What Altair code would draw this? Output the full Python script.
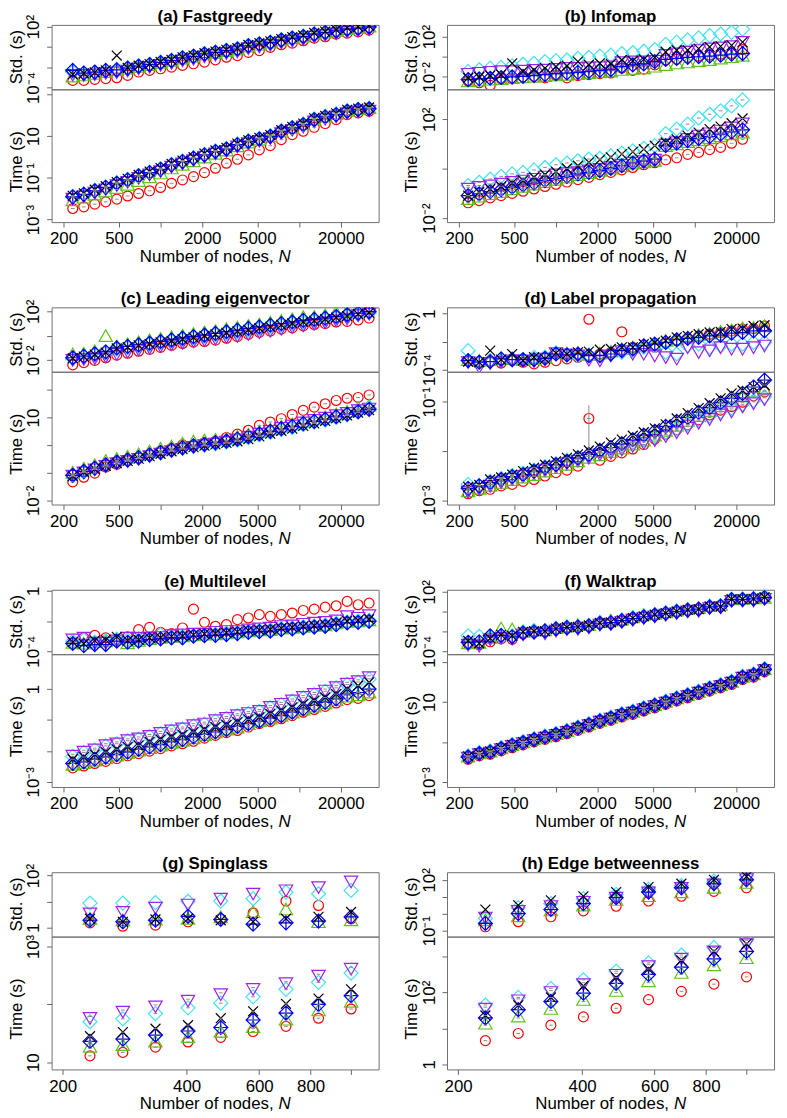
import altair as alt
import pandas as pd

FONT = "Liberation Sans"
W = 330
H_TOP = 65
H_BOT = 134
SIZE = 100

# Network sizes (x values)
N_BIG = [233, 280, 336, 403, 484, 580, 696, 835, 1002, 1202, 1443, 1731, 2077, 2493, 2992,
         3590, 4308, 5170, 6204, 7444, 8933, 10720, 12864, 15437, 18524, 22229, 26675, 32010]
N_SMALL = [233, 280, 336, 403, 484, 580, 697, 836, 1003]

XDOM_BIG = [164, 37500]
XDOM_SMALL = [188, 1170]
XTICKS_BIG = [200, 500, 1000, 2000, 5000, 10000, 20000]
XTICKS_SMALL = [200, 400, 600, 800, 1000]

ORDER = ["red", "green", "cyan", "purple", "blue", "black"]
COLOR = {"red": "#FF0000", "green": "#5CC415", "cyan": "#3FE2F2",
         "purple": "#A020F0", "blue": "#0000FF", "black": "#000000"}
SHAPE = {
    "red": "circle",
    "green": "M0,-1.555L1.347,0.778L-1.347,0.778Z",
    "purple": "M0,1.555L1.347,-0.778L-1.347,-0.778Z",
    "cyan": "M0,-1.414L1.414,0L0,1.414L-1.414,0Z",
    "blue": "M0,-1.414L1.414,0L0,1.414L-1.414,0ZM-1.414,0L1.414,0M0,-1.414L0,1.414",
    "black": "M-1,-1L1,1M-1,1L1,-1",
}

# ---------------- (a) Fastgreedy (log10 seconds) ----------------
FG_STD = {
    "red": [-3.29, -3.29, -3.19, -3.12, -3.03, -2.80, -2.47, -2.31, -2.15, -1.99, -1.82, -1.66, -1.50, -1.27,
            -1.01, -0.85, -0.53, -0.36, -0.04, 0.22, 0.38, 0.61, 0.87, 1.00, 1.26, 1.36, 1.49, 1.65],
    "green": [-3.05, -2.95, -2.80, -2.62, -2.45, -2.28, -2.10, -1.92, -1.70, -1.52, -1.28, -1.10, -0.88, -0.72,
              -0.55, -0.40, -0.10, 0.08, 0.28, 0.50, 0.70, 0.88, 1.10, 1.28, 1.44, 1.62, 1.72, 1.85],
    "cyan": [-2.45, -2.55, -2.50, -2.35, -2.20, -2.05, -1.85, -1.70, -1.50, -1.30, -1.05, -0.88, -0.65, -0.50,
             -0.32, -0.15, 0.15, 0.32, 0.48, 0.72, 0.90, 1.06, 1.30, 1.45, 1.62, 1.78, 1.88, 2.00],
    "purple": [-2.60, -2.62, -2.55, -2.42, -2.35, -2.18, -1.98, -1.82, -1.62, -1.42, -1.18, -1.02, -0.78, -0.62,
               -0.45, -0.30, 0.02, 0.18, 0.35, 0.58, 0.77, 0.93, 1.16, 1.32, 1.48, 1.65, 1.74, 1.88],
    "blue": [-2.31, -2.57, -2.47, -2.31, -2.25, -2.08, -1.89, -1.73, -1.53, -1.34, -1.08, -0.92, -0.69, -0.53,
             -0.36, -0.20, 0.12, 0.29, 0.45, 0.68, 0.87, 1.03, 1.26, 1.42, 1.58, 1.75, 1.84, 1.97],
    "black": [-2.70, -2.60, -2.50, -2.30, -0.85, -2.05, -1.85, -1.68, -1.48, -1.28, -1.02, -0.85, -0.62, -0.45,
              -0.28, -0.12, 0.20, 0.38, 0.55, 0.78, 0.97, 1.13, 1.38, 1.52, 1.70, 1.88, 1.98, 2.08],
}
FG_TIME = {
    "red": [-2.47, -2.39, -2.26, -2.15, -2.02, -1.87, -1.75, -1.62, -1.46, -1.26, -1.10, -0.94, -0.75, -0.54,
            -0.30, -0.11, 0.10, 0.34, 0.54, 0.83, 1.07, 1.23, 1.42, 1.60, 1.79, 2.03, 2.11, 2.19],
    "green": [-2.15, -2.02, -1.87, -1.72, -1.56, -1.40, -1.22, -1.04, -0.86, -0.62, -0.45, -0.28, -0.10, 0.08,
              0.24, 0.44, 0.62, 0.76, 0.92, 1.14, 1.32, 1.49, 1.72, 1.86, 1.98, 2.14, 2.22, 2.27],
    "cyan": [-1.88, -1.76, -1.59, -1.43, -1.23, -1.07, -0.88, -0.72, -0.56, -0.35, -0.19, -0.03, 0.13, 0.29,
             0.41, 0.62, 0.78, 0.89, 1.02, 1.26, 1.42, 1.58, 1.82, 1.95, 2.06, 2.22, 2.29, 2.34],
    "purple": [-1.93, -1.81, -1.64, -1.48, -1.28, -1.12, -0.93, -0.77, -0.61, -0.40, -0.24, -0.08, 0.08, 0.24,
               0.36, 0.57, 0.73, 0.84, 0.97, 1.21, 1.37, 1.53, 1.77, 1.90, 2.01, 2.17, 2.25, 2.29],
    "blue": [-1.91, -1.79, -1.62, -1.46, -1.26, -1.10, -0.91, -0.75, -0.59, -0.38, -0.22, -0.06, 0.10, 0.26,
             0.38, 0.59, 0.75, 0.86, 0.99, 1.23, 1.39, 1.55, 1.79, 1.92, 2.03, 2.19, 2.27, 2.31],
    "black": [-1.86, -1.74, -1.57, -1.40, -1.20, -1.05, -0.86, -0.70, -0.53, -0.33, -0.17, -0.01, 0.16, 0.31,
              0.44, 0.64, 0.80, 0.92, 1.05, 1.28, 1.44, 1.60, 1.85, 1.97, 2.09, 2.26, 2.32, 2.37],
}

# ---------------- (b) Infomap ----------------
IM_STD = {
    "red": [-2.42, -2.58, -2.84, -2.19, -2.19, -2.00, -1.94, -2.10, -1.87, -2.10, -1.87, -1.77, -1.68, -1.61,
            -1.13, -1.35, -1.23, -0.81, -0.32, -0.26, -0.06, 0.06, 0.16, 0.26, 0.32, 0.71],
    "green": [-2.58, -2.52, -2.42, -2.35, -2.26, -2.19, -2.13, -2.06, -2.00, -1.94, -1.87, -1.77, -1.68, -1.61,
              -1.45, -1.35, -1.29, -1.13, -0.97, -0.81, -0.71, -0.58, -0.48, -0.32, -0.19, -0.06],
    "cyan": [-1.45, -1.29, -1.13, -1.06, -0.90, -0.74, -0.65, -0.48, -0.39, -0.32, -0.16, -0.06, 0.06, 0.16,
             0.32, 0.42, 0.55, 0.71, 1.23, 1.45, 1.68, 1.87, 2.10, 2.26, 2.42, 2.74],
    "purple": [-1.55, -1.45, -1.35, -1.29, -1.29, -1.23, -1.16, -1.13, -1.06, -0.97, -0.97, -0.90, -0.90, -0.81,
               -0.39, -0.32, -0.32, -0.26, 0.32, 0.48, 0.65, 0.81, 0.97, 1.06, 1.19, 1.61],
    "blue": [-2.26, -2.19, -2.13, -2.06, -2.00, -1.94, -1.87, -1.77, -1.68, -1.61, -1.55, -1.45, -1.35, -1.29,
             -0.97, -0.81, -0.71, -0.48, -0.26, -0.16, -0.06, 0.00, 0.06, 0.16, 0.26, 0.32],
    "black": [-2.10, -2.00, -1.87, -1.77, -0.65, -1.45, -1.29, -1.13, -0.97, -0.90, -0.48, -0.81, -0.65, -0.71,
              -0.32, -0.42, -0.26, -0.06, 0.48, 0.65, 0.65, 0.81, 0.97, 1.03, 1.13, 1.45],
}
IM_TIME = {
    "red": [-1.38, -1.29, -1.18, -1.09, -1.00, -0.91, -0.82, -0.72, -0.63, -0.54, -0.44, -0.35, -0.24, -0.15,
            -0.05, 0.05, 0.16, 0.24, 0.36, 0.44, 0.58, 0.66, 0.77, 0.86, 1.03, 1.19],
    "green": [-1.29, -1.19, -1.09, -1.00, -0.89, -0.79, -0.70, -0.60, -0.51, -0.42, -0.32, -0.24, -0.15, -0.05,
              0.04, 0.15, 0.20, 0.26, 0.86, 0.93, 1.02, 1.09, 1.17, 1.25, 1.33, 1.40],
    "cyan": [-0.68, -0.55, -0.42, -0.31, -0.21, -0.15, -0.05, 0.05, 0.16, 0.23, 0.32, 0.39, 0.42, 0.52,
             0.63, 0.72, 0.82, 0.93, 1.42, 1.60, 1.80, 2.05, 2.20, 2.34, 2.54, 2.78],
    "purple": [-0.75, -0.68, -0.62, -0.55, -0.48, -0.42, -0.35, -0.26, -0.17, -0.12, -0.08, -0.01, 0.05, 0.12,
               0.21, 0.30, 0.36, 0.42, 1.03, 1.13, 1.26, 1.40, 1.49, 1.60, 1.73, 1.89],
    "blue": [-1.09, -1.02, -0.93, -0.85, -0.75, -0.66, -0.58, -0.48, -0.39, -0.31, -0.21, -0.15, -0.08, 0.01,
             0.12, 0.23, 0.31, 0.39, 0.93, 1.03, 1.13, 1.22, 1.30, 1.40, 1.49, 1.57],
    "black": [-1.09, -0.95, -0.82, -0.71, -0.58, -0.48, -0.35, -0.24, -0.12, 0.01, 0.12, 0.26, 0.36, 0.46,
              0.59, 0.68, 0.79, 0.93, 1.06, 1.19, 1.33, 1.46, 1.60, 1.70, 1.84, 2.03],
}

# ---------------- (c) Leading eigenvector ----------------
LE_STD = {
    "red": [-2.40, -2.21, -2.03, -1.81, -1.60, -1.44, -1.28, -1.12, -0.96, -0.80, -0.64, -0.53, -0.48, -0.37,
            -0.21, -0.08, 0.11, 0.27, 0.37, 0.53, 0.64, 0.80, 0.91, 0.99, 1.12, 1.17, 1.28, 1.44],
    "green": [-1.65, -1.60, -1.40, -0.16, -1.00, -0.82, -0.66, -0.50, -0.38, -0.25, -0.12, 0.02, 0.15, 0.25,
              0.42, 0.55, 0.68, 0.80, 0.95, 1.08, 1.22, 1.40, 1.42, 1.55, 1.80, 1.90, 2.13, 2.24],
    "cyan": [-1.88, -1.75, -1.58, -1.42, -1.10, -0.98, -0.85, -0.72, -0.58, -0.45, -0.32, -0.18, -0.05, 0.08,
             0.20, 0.32, 0.45, 0.58, 0.70, 0.85, 0.98, 1.10, 1.20, 1.32, 1.45, 1.60, 1.74, 1.86],
    "purple": [-1.87, -1.80, -1.72, -1.60, -1.38, -1.20, -1.02, -0.88, -0.74, -0.60, -0.46, -0.35, -0.25, -0.12,
               0.00, 0.10, 0.25, 0.40, 0.52, 0.68, 0.82, 0.96, 1.08, 1.20, 1.36, 1.52, 1.80, 1.92],
    "blue": [-1.81, -1.68, -1.49, -1.33, -1.01, -0.88, -0.75, -0.61, -0.48, -0.35, -0.21, -0.08, 0.05, 0.19,
             0.32, 0.45, 0.59, 0.72, 0.85, 0.99, 1.12, 1.25, 1.33, 1.44, 1.57, 1.71, 1.84, 1.97],
    "black": [-1.85, -1.72, -1.55, -1.40, -1.05, -0.95, -0.80, -0.68, -0.55, -0.42, -0.28, -0.15, -0.02, 0.10,
              0.22, 0.35, 0.48, 0.60, 0.72, 0.88, 1.00, 1.12, 1.22, 1.35, 1.48, 1.60, 1.76, 1.88],
}
LE_TIME = {
    "red": [-1.33, -1.16, -1.01, -0.79, -0.69, -0.57, -0.47, -0.35, -0.21, -0.11, 0.01, 0.01, 0.10, 0.15,
            0.28, 0.40, 0.54, 0.72, 0.84, 0.96, 1.11, 1.26, 1.38, 1.50, 1.62, 1.70, 1.73, 1.82],
    "green": [-1.05, -0.90, -0.78, -0.62, -0.55, -0.47, -0.38, -0.28, -0.18, -0.10, 0.00, 0.08, 0.12, 0.14,
              0.18, 0.25, 0.33, 0.43, 0.52, 0.62, 0.70, 0.80, 0.88, 0.96, 1.06, 1.16, 1.30, 1.38],
    "cyan": [-1.10, -0.97, -0.85, -0.73, -0.63, -0.55, -0.47, -0.37, -0.28, -0.19, -0.11, -0.04, 0.00, 0.05,
             0.11, 0.18, 0.27, 0.37, 0.46, 0.56, 0.64, 0.74, 0.83, 0.91, 1.01, 1.10, 1.26, 1.35],
    "purple": [-1.05, -0.93, -0.82, -0.70, -0.60, -0.52, -0.44, -0.34, -0.25, -0.16, -0.08, -0.01, 0.05, 0.11,
               0.18, 0.26, 0.36, 0.47, 0.57, 0.68, 0.77, 0.88, 0.97, 1.05, 1.14, 1.22, 1.32, 1.38],
    "blue": [-1.09, -0.95, -0.83, -0.71, -0.61, -0.53, -0.45, -0.35, -0.26, -0.17, -0.09, -0.02, 0.03, 0.09,
             0.15, 0.22, 0.31, 0.41, 0.50, 0.60, 0.68, 0.78, 0.86, 0.94, 1.03, 1.12, 1.21, 1.30],
    "black": [-1.12, -0.98, -0.87, -0.75, -0.65, -0.57, -0.49, -0.40, -0.31, -0.22, -0.14, -0.07, -0.02, 0.03,
              0.08, 0.14, 0.22, 0.32, 0.42, 0.52, 0.60, 0.70, 0.79, 0.88, 0.98, 1.08, 1.18, 1.27],
}

# ---------------- (d) Label propagation ----------------
LP_STD = {
    "red": [-3.36, -3.43, -3.43, -3.53, -3.36, -3.48, -3.60, -3.48, -3.36, -3.24, -3.12, -0.40, -2.89, -2.77,
            -1.30, -2.41, -2.30, -2.41, -2.11, -1.94, -1.78, -1.63, -1.47, -1.35, -1.23, -1.11, -1.07, -0.88],
    "green": [-3.43, -3.48, -3.43, -3.36, -3.36, -3.43, -3.36, -3.24, -2.89, -2.96, -2.96, -3.05, -2.96, -2.82,
              -2.65, -2.53, -2.41, -2.30, -2.06, -1.94, -1.82, -1.63, -1.54, -1.40, -1.30, -1.16, -1.11, -1.01],
    "cyan": [-2.65, -3.48, -3.36, -3.29, -3.24, -3.29, -3.12, -3.12, -2.82, -2.96, -3.01, -2.96, -3.01, -2.89,
             -2.77, -2.65, -2.41, -2.30, -2.77, -2.89, -2.30, -2.18, -2.41, -2.30, -2.18, -2.18, -2.06, -2.06],
    "purple": [-3.36, -3.72, -3.43, -3.36, -3.24, -3.24, -3.29, -3.12, -2.72, -2.82, -2.89, -3.20, -3.24, -2.89,
               -2.58, -2.77, -2.77, -2.89, -3.01, -3.12, -2.30, -2.65, -2.53, -2.30, -2.41, -2.41, -2.30, -2.18],
    "blue": [-3.36, -3.48, -3.43, -3.24, -3.29, -3.29, -3.29, -3.20, -2.89, -2.96, -2.89, -3.01, -3.01, -2.89,
             -2.65, -2.53, -2.30, -2.18, -2.06, -1.87, -1.78, -1.70, -1.59, -1.54, -1.40, -1.35, -1.23, -1.23],
    "black": [-3.43, -3.48, -2.65, -3.29, -2.89, -3.36, -3.12, -3.24, -2.82, -2.89, -2.77, -2.72, -2.58, -2.53,
              -2.41, -2.41, -2.18, -2.06, -1.94, -1.70, -1.59, -1.47, -1.35, -1.30, -1.11, -1.07, -0.88, -0.83],
}
LP_TIME = {
    "red": [-2.87, -2.81, -2.78, -2.71, -2.68, -2.62, -2.58, -2.51, -2.44, -2.39, -2.31, -1.34, -2.19, -2.11,
            -2.04, -1.96, -1.87, -1.76, -1.66, -1.57, -1.47, -1.37, -1.27, -1.17, -1.10, -1.01, -0.88, -0.80],
    "green": [-2.85, -2.80, -2.74, -2.68, -2.62, -2.57, -2.52, -2.45, -2.38, -2.31, -2.24, -2.17, -2.12, -2.05,
              -1.98, -1.90, -1.82, -1.72, -1.62, -1.52, -1.42, -1.32, -1.22, -1.12, -1.02, -0.92, -0.82, -0.78],
    "cyan": [-2.68, -2.70, -2.62, -2.56, -2.50, -2.45, -2.39, -2.32, -2.26, -2.19, -2.13, -2.07, -2.00, -1.96,
             -1.90, -1.83, -1.77, -1.70, -1.62, -1.55, -1.46, -1.37, -1.29, -1.20, -1.13, -1.05, -0.98, -0.90],
    "purple": [-2.80, -2.74, -2.68, -2.61, -2.54, -2.48, -2.42, -2.36, -2.29, -2.22, -2.17, -2.11, -2.04, -2.01,
               -1.94, -1.87, -1.81, -1.75, -1.67, -1.59, -1.50, -1.40, -1.32, -1.23, -1.17, -1.07, -1.00, -0.92],
    "blue": [-2.76, -2.71, -2.64, -2.58, -2.52, -2.48, -2.41, -2.34, -2.28, -2.21, -2.14, -2.07, -1.99, -1.93,
             -1.85, -1.77, -1.68, -1.60, -1.50, -1.40, -1.32, -1.21, -1.12, -1.02, -0.93, -0.83, -0.70, -0.56],
    "black": [-2.73, -2.69, -2.58, -2.54, -2.48, -2.41, -2.34, -2.28, -2.21, -2.14, -2.07, -1.99, -1.91, -1.83,
              -1.77, -1.69, -1.62, -1.54, -1.46, -1.34, -1.23, -1.13, -1.03, -0.93, -0.83, -0.77, -0.70, -0.66],
}
LP_ERR_N = [1731]
LP_ERR_LO = [-1.97]
LP_ERR_HI = [-1.07]

# ---------------- (e) Multilevel ----------------
ML_STD = {
    "red": [-3.49, -3.12, -2.95, -3.12, -3.34, -3.05, -2.57, -2.42, -2.75, -2.84, -2.46, -1.21, -2.09, -2.35,
            -2.24, -1.91, -1.80, -1.58, -1.69, -1.58, -1.47, -1.30, -1.21, -1.08, -0.99, -0.70, -0.92, -0.81],
    "green": [-3.55, -3.60, -3.50, -3.45, -3.30, -3.58, -3.42, -3.30, -3.22, -3.15, -3.12, -3.05, -3.00, -2.98,
              -2.92, -2.85, -2.78, -2.72, -2.70, -2.60, -2.55, -2.48, -2.42, -2.38, -2.26, -2.15, -2.12, -2.05],
    "cyan": [-3.35, -3.25, -3.40, -3.30, -3.20, -3.25, -3.20, -3.15, -2.90, -3.05, -3.00, -2.95, -2.88, -2.85,
             -2.80, -2.75, -2.66, -2.62, -2.58, -2.50, -2.44, -2.38, -2.32, -2.25, -2.15, -2.06, -2.00, -1.95],
    "purple": [-3.12, -3.01, -3.34, -3.34, -3.19, -3.01, -3.01, -3.01, -2.97, -2.84, -2.79, -2.75, -2.75, -2.62,
               -2.57, -2.57, -2.46, -2.40, -2.35, -2.24, -2.20, -2.09, -2.02, -1.96, -1.87, -1.58, -1.69, -1.52],
    "blue": [-3.49, -3.63, -3.56, -3.56, -3.34, -3.41, -3.34, -3.23, -3.19, -3.12, -3.12, -3.01, -2.97, -2.95,
             -2.90, -2.84, -2.75, -2.70, -2.68, -2.57, -2.53, -2.46, -2.40, -2.35, -2.24, -2.13, -2.09, -2.02],
    "black": [-3.40, -3.50, -3.30, -3.25, -3.05, -3.30, -3.25, -3.10, -3.10, -3.02, -3.00, -2.92, -2.85, -2.82,
              -2.78, -2.72, -2.62, -2.60, -2.55, -2.48, -2.42, -2.35, -2.30, -2.24, -2.12, -2.00, -1.96, -1.88],
}
ML_TIME = {
    "red": [-2.55, -2.49, -2.41, -2.34, -2.25, -2.16, -2.09, -2.01, -1.93, -1.84, -1.77, -1.69, -1.59, -1.50,
            -1.41, -1.34, -1.23, -1.12, -1.05, -0.96, -0.86, -0.75, -0.66, -0.56, -0.45, -0.34, -0.30, -0.21],
    "green": [-2.50, -2.44, -2.36, -2.29, -2.20, -2.11, -2.04, -1.96, -1.88, -1.79, -1.72, -1.64, -1.54, -1.45,
              -1.36, -1.29, -1.18, -1.08, -1.00, -0.91, -0.81, -0.71, -0.61, -0.51, -0.40, -0.29, -0.25, -0.16],
    "cyan": [-2.18, -2.05, -1.97, -1.84, -1.77, -1.67, -1.62, -1.53, -1.44, -1.36, -1.29, -1.19, -1.13, -1.03,
             -0.95, -0.86, -0.79, -0.72, -0.60, -0.50, -0.39, -0.28, -0.18, -0.07, 0.04, 0.15, 0.23, 0.33],
    "purple": [-2.11, -1.98, -1.91, -1.77, -1.71, -1.61, -1.55, -1.47, -1.37, -1.29, -1.23, -1.12, -1.07, -0.96,
               -0.89, -0.80, -0.73, -0.66, -0.53, -0.43, -0.32, -0.21, -0.11, 0.00, 0.11, 0.22, 0.30, 0.43],
    "blue": [-2.41, -2.36, -2.27, -2.20, -2.12, -2.04, -1.95, -1.87, -1.80, -1.71, -1.64, -1.55, -1.47, -1.39,
             -1.31, -1.21, -1.12, -1.04, -0.94, -0.86, -0.75, -0.64, -0.53, -0.43, -0.32, -0.16, -0.11, 0.00],
    "black": [-2.27, -2.20, -2.12, -2.04, -1.95, -1.87, -1.82, -1.71, -1.63, -1.55, -1.48, -1.39, -1.31, -1.23,
              -1.16, -1.07, -0.98, -0.91, -0.80, -0.70, -0.59, -0.48, -0.37, -0.27, -0.16, 0.00, 0.11, 0.22],
}

# ---------------- (f) Walktrap ----------------
WT_STD = {
    "red": [-3.30, -3.35, -3.05, -2.75, -2.80, -2.25, -2.10, -2.05, -1.80, -1.68, -1.60, -1.48, -1.22, -1.15,
            -0.95, -0.72, -0.55, -0.38, -0.20, -0.02, 0.12, 0.22, 0.45, 0.65, 1.20, 1.22, 1.25, 1.38],
    "green": [-3.35, -3.30, -2.80, -1.85, -1.95, -2.20, -2.05, -2.05, -1.82, -1.65, -1.50, -1.50, -1.20, -1.05,
              -0.95, -0.72, -0.48, -0.38, -0.22, -0.05, 0.12, 0.20, 0.45, 0.52, 1.10, 1.15, 1.18, 1.25],
    "cyan": [-2.45, -2.50, -2.60, -2.55, -2.45, -2.05, -1.92, -1.95, -1.72, -1.55, -1.52, -1.40, -1.12, -1.08,
             -0.85, -0.62, -0.45, -0.30, -0.12, 0.05, 0.20, 0.28, 0.52, 0.60, 1.25, 1.28, 1.30, 1.50],
    "purple": [-3.20, -3.30, -2.65, -2.50, -2.60, -2.15, -2.00, -2.05, -1.78, -1.62, -1.60, -1.45, -1.17, -1.12,
               -0.90, -0.68, -0.50, -0.33, -0.17, 0.00, 0.17, 0.23, 0.50, 0.57, 1.23, 1.25, 1.27, 1.43],
    "blue": [-3.10, -3.05, -2.45, -2.40, -2.55, -2.15, -2.05, -1.95, -1.75, -1.62, -1.55, -1.45, -1.18, -1.12,
             -0.92, -0.70, -0.52, -0.35, -0.18, 0.00, 0.15, 0.25, 0.48, 0.55, 1.20, 1.22, 1.28, 1.40],
    "black": [-2.95, -3.20, -2.70, -2.35, -2.45, -2.05, -1.98, -1.98, -1.72, -1.58, -1.55, -1.40, -1.15, -1.08,
              -0.88, -0.65, -0.48, -0.30, -0.15, 0.02, 0.18, 0.25, 0.52, 0.50, 1.25, 1.25, 1.28, 1.45],
}
WT_TIME = {
    "red": [-1.87, -1.70, -1.62, -1.45, -1.29, -1.15, -1.00, -0.87, -0.74, -0.59, -0.42, -0.25, -0.07, 0.08,
            0.25, 0.38, 0.55, 0.71, 0.88, 1.05, 1.21, 1.38, 1.55, 1.71, 1.88, 2.13, 2.25, 2.51],
    "green": [-1.81, -1.64, -1.56, -1.39, -1.23, -1.09, -0.94, -0.81, -0.68, -0.53, -0.36, -0.19, -0.01, 0.14,
              0.31, 0.44, 0.61, 0.77, 0.94, 1.11, 1.27, 1.44, 1.61, 1.77, 1.94, 2.19, 2.31, 2.57],
    "cyan": [-1.70, -1.53, -1.45, -1.28, -1.12, -0.98, -0.83, -0.70, -0.57, -0.42, -0.25, -0.08, 0.10, 0.25,
             0.42, 0.55, 0.72, 0.88, 1.05, 1.22, 1.38, 1.55, 1.72, 1.88, 2.05, 2.30, 2.42, 2.68],
    "purple": [-1.71, -1.54, -1.46, -1.29, -1.13, -0.99, -0.84, -0.71, -0.58, -0.43, -0.26, -0.09, 0.09, 0.24,
               0.41, 0.54, 0.71, 0.87, 1.04, 1.21, 1.37, 1.54, 1.71, 1.87, 2.04, 2.29, 2.41, 2.67],
    "blue": [-1.75, -1.58, -1.50, -1.33, -1.17, -1.03, -0.88, -0.75, -0.62, -0.47, -0.30, -0.13, 0.05, 0.20,
             0.37, 0.50, 0.67, 0.83, 1.00, 1.17, 1.33, 1.50, 1.67, 1.83, 2.00, 2.25, 2.37, 2.63],
    "black": [-1.73, -1.56, -1.48, -1.31, -1.15, -1.01, -0.86, -0.73, -0.60, -0.45, -0.28, -0.11, 0.07, 0.22,
              0.39, 0.52, 0.69, 0.85, 1.02, 1.19, 1.35, 1.52, 1.69, 1.85, 2.02, 2.27, 2.39, 2.65],
}

# ---------------- (g) Spinglass ----------------
SG_STD = {
    "red": [0.18, 0.05, 0.09, 0.22, 0.34, 0.56, 1.02, 0.85, 0.34],
    "green": [0.28, 0.22, 0.25, 0.28, 0.34, 0.54, 0.64, 0.15, 0.22],
    "cyan": [0.94, 0.94, 0.96, 1.01, 1.02, 1.11, 1.36, 1.30, 1.43],
    "purple": [0.60, 0.66, 0.82, 0.94, 1.17, 1.36, 1.49, 1.61, 1.83],
    "blue": [0.28, 0.22, 0.28, 0.43, 0.31, 0.13, 0.18, 0.25, 0.41],
    "black": [0.34, 0.22, 0.31, 0.34, 0.28, 0.22, 0.34, 0.41, 0.60],
}
SG_TIME = {
    "red": [1.11, 1.17, 1.26, 1.35, 1.43, 1.53, 1.62, 1.76, 1.92],
    "green": [1.24, 1.27, 1.33, 1.41, 1.50, 1.58, 1.71, 1.87, 2.02],
    "cyan": [1.70, 1.75, 1.84, 1.94, 2.02, 2.13, 2.26, 2.38, 2.54],
    "purple": [1.79, 1.90, 1.99, 2.09, 2.20, 2.29, 2.39, 2.52, 2.64],
    "blue": [1.36, 1.40, 1.47, 1.54, 1.60, 1.73, 1.85, 2.00, 2.15],
    "black": [1.45, 1.52, 1.58, 1.64, 1.76, 1.88, 2.01, 2.10, 2.26],
}

# ---------------- (h) Edge betweenness ----------------
EB_STD = {
    "red": [-0.77, -0.47, -0.18, 0.17, 0.44, 0.75, 1.03, 1.32, 1.53],
    "green": [-0.47, -0.24, 0.11, 0.40, 0.73, 0.95, 1.18, 1.44, 1.73],
    "cyan": [-0.28, 0.36, 0.60, 0.89, 1.14, 1.44, 1.67, 1.92, 2.26],
    "purple": [-0.14, 0.25, 0.54, 0.79, 1.03, 1.34, 1.61, 1.81, 2.12],
    "blue": [-0.57, 0.01, 0.25, 0.60, 0.95, 1.28, 1.53, 1.77, 2.00],
    "black": [0.25, 0.50, 0.79, 1.03, 1.28, 1.57, 1.77, 2.00, 2.20],
}
EB_TIME = {
    "red": [0.66, 0.86, 1.09, 1.32, 1.56, 1.80, 2.03, 2.23, 2.43],
    "green": [1.09, 1.29, 1.50, 1.75, 2.00, 2.27, 2.50, 2.71, 2.91],
    "cyan": [1.65, 1.86, 2.11, 2.35, 2.59, 2.82, 3.04, 3.25, 3.45],
    "purple": [1.59, 1.82, 2.05, 2.27, 2.53, 2.77, 2.98, 3.18, 3.38],
    "blue": [1.29, 1.52, 1.75, 1.98, 2.25, 2.50, 2.70, 2.93, 3.14],
    "black": [1.36, 1.64, 1.86, 2.18, 2.41, 2.65, 2.89, 3.14, 3.35],
}

PANELS = [
    dict(title="(a) Fastgreedy", n=N_BIG, std=FG_STD, time=FG_TIME, sdom=(-4.17, 2.17), tdom=(-3.12, 3.24),
         sticks=[-4, -2, 0, 2], slab=[-4, 2], tticks=[-3, -1, 1, 3], tlab=[-3, -1, 1], big=True),
    dict(title="(b) Infomap", n=N_BIG[:26], std=IM_STD, time=IM_TIME, sdom=(-3.23, 3.16), tdom=(-2.16, 3.21),
         sticks=[-2, 0, 2], slab=[-2, 2], tticks=[-2, 0, 2], tlab=[-2, 2], big=True),
    dict(title="(c) Leading eigenvector", n=N_BIG, std=LE_STD, time=LE_TIME, sdom=(-2.96, 2.32),
         tdom=(-2.15, 2.66), sticks=[-2, 0, 2], slab=[-2, 2], tticks=[-2, -1, 0, 1, 2], tlab=[-2, 1], big=True),
    dict(title="(d) Label propagation", n=N_BIG, std=LP_STD, time=LP_TIME, sdom=(-4.16, 0.45),
         tdom=(-3.09, -0.39), sticks=[-4, -2, 0], slab=[-4, 0], tticks=[-3, -2, -1], tlab=[-3, -1], big=True,
         err=(LP_ERR_N, LP_ERR_LO, LP_ERR_HI)),
    dict(title="(e) Multilevel", n=N_BIG, std=ML_STD, time=ML_TIME, sdom=(-4.2, 0.07), tdom=(-3.17, 1.13),
         sticks=[-4, -2, 0], slab=[-4, 0], tticks=[-3, -2, -1, 0], tlab=[-3, 0], big=True),
    dict(title="(f) Walktrap", n=N_BIG, std=WT_STD, time=WT_TIME, sdom=(-4.3, 2.2), tdom=(-3.26, 3.4),
         sticks=[-4, -2, 0, 2], slab=[-4, 2], tticks=[-3, -1, 1, 3], tlab=[-3, 1], big=True),
    dict(title="(g) Spinglass", n=N_SMALL, std=SG_STD, time=SG_TIME, sdom=(-0.35, 2.13), tdom=(0.876, 3.17),
         sticks=[0, 1, 2], slab=[0, 2], tticks=[1, 2, 3], tlab=[1, 3], big=False),
    dict(title="(h) Edge betweenness", n=N_SMALL, std=EB_STD, time=EB_TIME, sdom=(-1.35, 2.45),
         tdom=(-0.14, 3.55), sticks=[-1, 0, 1, 2], slab=[-1, 2], tticks=[0, 1, 2, 3], tlab=[0, 2], big=False),
]

SUP = str.maketrans("-0123456789", "\u207b\u2070\u00b9\u00b2\u00b3\u2074\u2075\u2076\u2077\u2078\u2079")


def sup(e):
    if e == 0:
        return "1"
    if e == 1:
        return "10"
    return "10" + str(e).translate(SUP)


def y_label_expr(labeled):
    expr = "''"
    for e in labeled:
        expr = "round(log(datum.value)/LN10) == %d ? '%s' : (%s)" % (e, sup(e), expr)
    return expr


def x_label_expr(big):
    if big:
        return "(datum.value == 1000 || datum.value == 10000) ? '' : format(datum.value, 'd')"
    return "datum.value == 1000 ? '' : format(datum.value, 'd')"


def one_row():
    return pd.DataFrame({"a": [0]})


def subplot(p, which):
    top = which == "std"
    d = p["std"] if top else p["time"]
    dom = p["sdom"] if top else p["tdom"]
    ticks = p["sticks"] if top else p["tticks"]
    lab = p["slab"] if top else p["tlab"]
    height = H_TOP if top else H_BOT
    big = p["big"]
    xdom = XDOM_BIG if big else XDOM_SMALL
    xticks = XTICKS_BIG if big else XTICKS_SMALL

    rows = []
    for si, s in enumerate(ORDER):
        for i, (n, v) in enumerate(zip(p["n"], d[s])):
            rows.append({"N": n, "val": 10.0 ** v, "series": s, "k": si * 100 + i})
    df = pd.DataFrame(rows)

    xscale = alt.Scale(type="log", domain=xdom, nice=False)
    if top:
        X = alt.X("N:Q", scale=xscale, axis=None)
    else:
        X = alt.X("N:Q", scale=xscale, title=None,
                  axis=alt.Axis(values=xticks, labelExpr=x_label_expr(big), labelOverlap=False,
                                labelFlush=False, tickSize=5, labelPadding=4, labelFontSize=17,
                                labelFont=FONT, domain=False, grid=False))
    yscale = alt.Scale(type="log", domain=[10.0 ** dom[0], 10.0 ** dom[1]], nice=False)
    yaxis = alt.Axis(values=[10.0 ** e for e in ticks], labelExpr=y_label_expr(lab), labelAngle=270,
                     labelAlign="center", labelBaseline="alphabetic", labelPadding=8, tickSize=5,
                     labelOverlap=False, labelFlush=False, labelFontSize=17, labelFont=FONT,
                     domain=False, grid=False)

    def Y(field):
        return alt.Y(field, scale=yscale, axis=yaxis, title=None)

    layers = []
    pts = alt.Chart(df).mark_point(filled=False, size=SIZE, strokeWidth=1.2, opacity=1, clip=True).encode(
        x=X, y=Y("val:Q"),
        color=alt.Color("series:N", scale=alt.Scale(domain=ORDER, range=[COLOR[s] for s in ORDER]), legend=None),
        shape=alt.Shape("series:N", scale=alt.Scale(domain=ORDER, range=[SHAPE[s] for s in ORDER]), legend=None),
        order=alt.Order("k:Q"),
    )
    layers.append(pts)
    if not top:
        dashes = alt.Chart(df).mark_point(shape="M-1,0L1,0", size=14, filled=False, color="#8a8a8a",
                                          strokeWidth=1, opacity=1, clip=True).encode(x=X, y=Y("val:Q"))
        layers.append(dashes)
        if "err" in p:
            en, elo, ehi = p["err"]
            edf = pd.DataFrame({"N": en, "lo": [10.0 ** v for v in elo], "hi": [10.0 ** v for v in ehi]})
            layers.append(alt.Chart(edf).mark_rule(color="#8a8a8a", strokeWidth=1).encode(
                x=X, y=Y("lo:Q"), y2="hi:Q"))
        # x axis title with italic N
        layers.append(alt.Chart(one_row()).mark_text(text="Number of nodes,", align="right",
                                                      baseline="alphabetic", fontSize=17, font=FONT).encode(
            x=alt.value(W / 2 + 59), y=alt.value(height + 40)))
        layers.append(alt.Chart(one_row()).mark_text(text="N", align="left", baseline="alphabetic",
                                                      fontSize=17, font=FONT, fontStyle="italic").encode(
            x=alt.value(W / 2 + 64), y=alt.value(height + 40)))
        ytitle, yc = "Time (s)", height / 2 + 6
    else:
        layers.append(alt.Chart(one_row()).mark_text(text=p["title"], align="center", baseline="alphabetic",
                                                      fontSize=17, fontWeight="bold", font=FONT).encode(
            x=alt.value(W / 2), y=alt.value(-3)))
        ytitle, yc = "Std. (s)", height / 2
    layers.append(alt.Chart(one_row()).mark_text(text=ytitle, angle=270, align="center", baseline="middle",
                                                  fontSize=17, font=FONT).encode(
        x=alt.value(-35), y=alt.value(yc)))
    return alt.layer(*layers).properties(width=W, height=height)


def panel(p):
    return alt.vconcat(subplot(p, "std"), subplot(p, "time"), spacing=0, bounds="flush")


rows = []
for r in range(4):
    rows.append(alt.hconcat(panel(PANELS[2 * r]), panel(PANELS[2 * r + 1]), spacing=23))

chart = alt.vconcat(*rows, spacing=24).properties(
    padding={"left": -1, "top": -6, "right": 4, "bottom": 4}
).configure_view(stroke="#707070", strokeWidth=1).configure_axis(
    tickColor="#666666", labelColor="#000000"
).configure_text(font=FONT)

chart.save("out.html", embed_options={"renderer": "svg", "actions": False})
